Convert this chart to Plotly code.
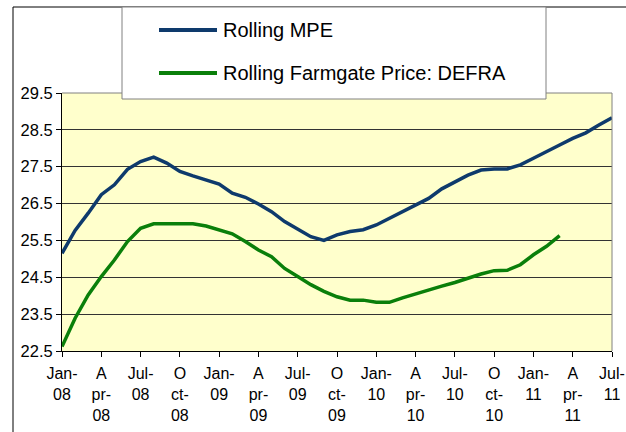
import plotly.graph_objects as go

# ---- data ----
months = ["Jan-08", "Feb-08", "Mar-08", "Apr-08", "May-08", "Jun-08", "Jul-08", "Aug-08", "Sep-08", "Oct-08", "Nov-08", "Dec-08",
          "Jan-09", "Feb-09", "Mar-09", "Apr-09", "May-09", "Jun-09", "Jul-09", "Aug-09", "Sep-09", "Oct-09", "Nov-09", "Dec-09",
          "Jan-10", "Feb-10", "Mar-10", "Apr-10", "May-10", "Jun-10", "Jul-10", "Aug-10", "Sep-10", "Oct-10", "Nov-10", "Dec-10",
          "Jan-11", "Feb-11", "Mar-11", "Apr-11", "May-11", "Jun-11", "Jul-11"]

rolling_mpe = [25.15, 25.77, 26.24, 26.74, 27.01, 27.43, 27.64, 27.76, 27.60, 27.37,
               27.25, 27.15, 27.03, 26.78, 26.67, 26.49, 26.28, 26.01, 25.80, 25.60,
               25.50, 25.65, 25.74, 25.79, 25.92, 26.10, 26.28, 26.46, 26.64, 26.90,
               27.09, 27.27, 27.41, 27.44, 27.44, 27.55, 27.73, 27.90, 28.09, 28.27,
               28.42, 28.63, 28.83]

rolling_defra = [22.62, 23.39, 24.02, 24.52, 24.97, 25.47, 25.83, 25.95, 25.95, 25.95,
                 25.95, 25.89, 25.79, 25.68, 25.47, 25.24, 25.06, 24.74, 24.52, 24.30,
                 24.12, 23.97, 23.88, 23.88, 23.82, 23.82, 23.94, 24.05, 24.17, 24.26,
                 24.36, 24.48, 24.59, 24.68, 24.69, 24.84, 25.11, 25.34, 25.63]

tick_months = months[::3]
tick_labels = ["Jan-<br>08", "A<br>pr-<br>08", "Jul-<br>08", "O<br>ct-<br>08",
               "Jan-<br>09", "A<br>pr-<br>09", "Jul-<br>09", "O<br>ct-<br>09",
               "Jan-<br>10", "A<br>pr-<br>10", "Jul-<br>10", "O<br>ct-<br>10",
               "Jan-<br>11", "A<br>pr-<br>11", "Jul-<br>11"]

series_names = ["Rolling MPE", "Rolling Farmgate Price: DEFRA"]
series_colors = ["#0E3A6C", "#0A7F0A"]

FONT = "Arial, Liberation Sans, sans-serif"

fig = go.Figure()
fig.add_trace(go.Scatter(x=months, y=rolling_mpe, mode="lines", name=series_names[0],
                         line=dict(color=series_colors[0], width=3.5), showlegend=False))
fig.add_trace(go.Scatter(x=months[:len(rolling_defra)], y=rolling_defra, mode="lines", name=series_names[1],
                         line=dict(color=series_colors[1], width=3.5), showlegend=False))

# plot area: x 62..612, y 93..351 (px)
W, H = 550.0, 258.0
L, T = 62.0, 93.0


def px(xp):
    return (xp - L) / W


def py(yp):
    return (T + H - yp) / H


shapes = [
    # outer chart frame (right/bottom outside the view)
    dict(type="rect", xref="paper", yref="paper", x0=px(13), x1=px(700), y0=py(7), y1=py(500),
         line=dict(color="black", width=1), fillcolor="rgba(0,0,0,0)", layer="above"),
    # plot area top/right border (gray)
    dict(type="line", xref="paper", yref="paper", x0=0, x1=1, y0=1, y1=1,
         line=dict(color="#808080", width=1), layer="above"),
    dict(type="line", xref="paper", yref="paper", x0=1, x1=1, y0=0, y1=1,
         line=dict(color="#808080", width=1), layer="above"),
    # legend box
    dict(type="rect", xref="paper", yref="paper", x0=px(122), x1=px(546), y0=py(99), y1=py(7),
         line=dict(color="#808080", width=1), fillcolor="white", layer="above"),
]
legend_y = [30, 73]
annotations = []
for name, color, ly in zip(series_names, series_colors, legend_y):
    shapes.append(dict(type="line", xref="paper", yref="paper", x0=px(159), x1=px(217), y0=py(ly), y1=py(ly),
                       line=dict(color=color, width=4), layer="above"))
    annotations.append(dict(xref="paper", yref="paper", x=px(221), y=py(ly), xanchor="left", yanchor="middle",
                            text=name, showarrow=False, font=dict(family=FONT, size=20, color="black")))

fig.update_layout(
    width=626, height=432,
    margin=dict(l=62, r=14, t=93, b=81, autoexpand=False),
    paper_bgcolor="white",
    plot_bgcolor="#FFFFCC",
    font=dict(family=FONT, size=16, color="black"),
    shapes=shapes,
    annotations=annotations,
    showlegend=False,
)
fig.update_xaxes(type="category", range=[0, 42], tickmode="array", tickvals=tick_months, ticktext=tick_labels,
                 tickangle=0, ticks="outside", ticklen=5, tickcolor="black", showline=True, linecolor="black",
                 linewidth=1, showgrid=False, automargin=False, ticklabelstandoff=3,
                 tickfont=dict(family=FONT, size=16, color="black"))
fig.update_yaxes(range=[22.5, 29.5], tick0=22.5, dtick=1, tickformat=".1f", ticks="outside", ticklen=5,
                 tickcolor="black", showline=True, linecolor="black", linewidth=1, showgrid=True, automargin=False,
                 gridcolor="#333333", gridwidth=1, zeroline=False, tickfont=dict(family=FONT, size=16.5, color="black"))

fig.write_html("out.html", config={"displayModeBar": False},
               post_script="document.body.style.margin='0';document.body.style.overflow='hidden';")
